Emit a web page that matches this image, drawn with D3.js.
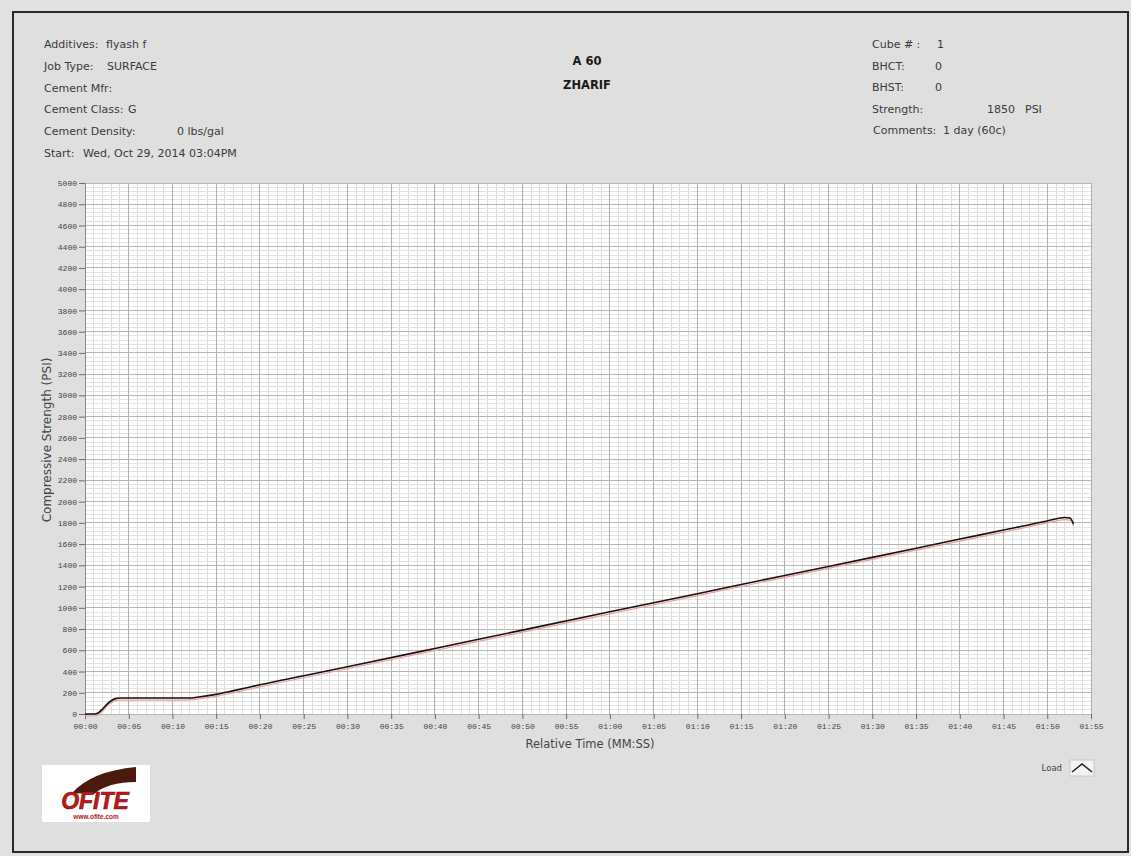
<!DOCTYPE html>
<html>
<head>
<meta charset="utf-8">
<script src="https://cdn.jsdelivr.net/npm/d3@7"></script>
<style>
  html, body { margin: 0; padding: 0; background: #e1e1e1; }
  svg { display: block; }
</style>
</head>
<body>
<svg id="chart" width="1131" height="856"></svg>
<script>
// Compressive strength test record
const timeSeconds = [0, 1, 1.5, 2, 2.5, 3, 3.5, 4, 6, 8, 10, 11.5, 13, 15, 17, 20, 25, 30, 40, 50, 60, 70, 80, 90, 100, 105, 110, 112, 112.6, 113];
const strengthPsi = [0, 0, 10, 45, 90, 125, 145, 150, 150, 150, 150, 150, 160, 185, 220, 275, 360, 445, 617, 790, 962, 1133, 1305, 1475, 1647, 1732, 1818, 1850, 1845, 1790];

const yTicks = d3.range(0, 5001, 200);
const xTicks = d3.range(0, 116, 5);

const leftInfo = [
  ["Additives:", "flyash f"],
  ["Job Type:", "SURFACE"],
  ["Cement Mfr:", ""],
  ["Cement Class:", "G"],
  ["Cement Density:", "0  lbs/gal"],
  ["Start:", "Wed, Oct 29, 2014 03:04PM"]
];
const rightInfo = [
  ["Cube # :", "1"],
  ["BHCT:", "0"],
  ["BHST:", "0"],
  ["Strength:", "1850"],
  ["Comments:", "1 day (60c)"]
];
const titleLines = ["A 60", "ZHARIF"];

const svg = d3.select("#chart");
const W = 1131, H = 856;
const uiFont = "'DejaVu Sans', sans-serif";

// frame
svg.append("rect").attr("x", 0).attr("y", 0).attr("width", W).attr("height", H).attr("fill", "#e1e1e1");
svg.append("rect").attr("x", 13).attr("y", 12).attr("width", 1115).attr("height", 840)
  .attr("fill", "#dfdfdf").attr("stroke", "#2a2a2a").attr("stroke-width", 2);

const plot = { left: 85, top: 183, right: 1091, bottom: 714 };
const x = d3.scaleLinear().domain([0, 115]).range([plot.left, plot.right]);
const y = d3.scaleLinear().domain([0, 5000]).range([plot.bottom, plot.top]);

const g = svg.append("g");
g.append("rect").attr("x", plot.left).attr("y", plot.top)
  .attr("width", plot.right - plot.left).attr("height", plot.bottom - plot.top).attr("fill", "#ffffff");

// minor grid
g.append("g").selectAll("line").data(d3.range(0, 116, 1).filter(d => d % 5 !== 0)).join("line")
  .attr("x1", d => x(d)).attr("x2", d => x(d)).attr("y1", plot.top).attr("y2", plot.bottom)
  .attr("stroke", "#dedede").attr("stroke-width", 1).attr("shape-rendering", "crispEdges");
g.append("g").selectAll("line").data(d3.range(0, 5001, 40).filter(d => d % 200 !== 0)).join("line")
  .attr("y1", d => y(d)).attr("y2", d => y(d)).attr("x1", plot.left).attr("x2", plot.right)
  .attr("stroke", "#e4e4e4").attr("stroke-width", 1).attr("shape-rendering", "crispEdges");
// major grid
g.append("g").selectAll("line").data(xTicks).join("line")
  .attr("x1", d => x(d)).attr("x2", d => x(d)).attr("y1", plot.top).attr("y2", plot.bottom)
  .attr("stroke", "#b0b0b0").attr("stroke-width", 1).attr("shape-rendering", "crispEdges");
g.append("g").selectAll("line").data(yTicks).join("line")
  .attr("y1", d => y(d)).attr("y2", d => y(d)).attr("x1", plot.left).attr("x2", plot.right)
  .attr("stroke", "#b6b6b6").attr("stroke-width", 1).attr("shape-rendering", "crispEdges");

// axes
const fmt = s => String(Math.floor(s / 60)).padStart(2, "0") + ":" + String(s % 60).padStart(2, "0");
const xAxis = g.append("g").attr("transform", `translate(0,${plot.bottom})`)
  .call(d3.axisBottom(x).tickValues(xTicks).tickFormat(fmt).tickSize(5).tickPadding(4));
const yAxis = g.append("g").attr("transform", `translate(${plot.left},0)`)
  .call(d3.axisLeft(y).tickValues(yTicks).tickFormat(d3.format("d")).tickSize(6).tickPadding(2));
[xAxis, yAxis].forEach(a => {
  a.select(".domain").attr("stroke", "#8a8a8a");
  a.selectAll(".tick line").attr("stroke", "#6a6a6a");
  a.selectAll("text").attr("font-family", "'Liberation Mono', monospace").attr("font-size", 8).attr("fill", "#444");
});
xAxis.select(".domain").remove();

// trace
const line = d3.line().x((d, i) => x(timeSeconds[i])).y(d => y(d)).curve(d3.curveMonotoneX);
g.append("path").datum(strengthPsi).attr("d", line).attr("fill", "none")
  .attr("stroke", "#e8a0a0").attr("stroke-width", 1.2).attr("transform", "translate(0,2)");
g.append("path").datum(strengthPsi).attr("d", line).attr("fill", "none")
  .attr("stroke", "#1a1010").attr("stroke-width", 1.6);

// axis titles
svg.append("text").attr("x", 590).attr("y", 748).attr("text-anchor", "middle")
  .attr("font-family", uiFont).attr("font-size", 11.5).attr("fill", "#444")
  .text("Relative Time (MM:SS)");
svg.append("text").attr("transform", "translate(51,440) rotate(-90)").attr("text-anchor", "middle")
  .attr("font-family", uiFont).attr("font-size", 12).attr("fill", "#444")
  .text("Compressive Strength (PSI)");

// header info
const info = svg.append("g").attr("font-family", uiFont).attr("font-size", 11).attr("fill", "#3a3a3a");
const leftValX = [106, 107, 0, 128, 177, 83];
leftInfo.forEach((r, i) => {
  const yy = 48 + i * 21.8;
  info.append("text").attr("x", 44).attr("y", yy).text(r[0]);
  if (r[1]) info.append("text").attr("x", leftValX[i]).attr("y", yy).text(r[1]);
});
const rightValX = [937, 935, 935, 987, 943];
rightInfo.forEach((r, i) => {
  const yy = 48 + i * 21.5;
  info.append("text").attr("x", i === 4 ? 873 : 872).attr("y", yy).text(r[0]);
  info.append("text").attr("x", rightValX[i]).attr("y", yy).text(r[1]);
});
info.append("text").attr("x", 1025).attr("y", 48 + 3 * 21.5).text("PSI");

titleLines.forEach((t, i) => {
  svg.append("text").attr("x", 587).attr("y", 65 + i * 24).attr("text-anchor", "middle")
    .attr("font-family", uiFont).attr("font-weight", "bold").attr("font-size", 11.5)
    .attr("fill", "#1a1a1a").text(t);
});

// legend
svg.append("text").attr("x", 1062).attr("y", 771).attr("text-anchor", "end")
  .attr("font-family", uiFont).attr("font-size", 8.5).attr("fill", "#444").text("Load");
svg.append("rect").attr("x", 1070).attr("y", 760).attr("width", 24).attr("height", 16).attr("fill", "#f7f3f3")
  .attr("stroke", "#c8c8c8");
svg.append("path").attr("d", "M1072,772 L1082,764 L1092,772").attr("fill", "none").attr("stroke", "#222").attr("stroke-width", 1.6);

// logo
const logo = svg.append("g");
logo.append("rect").attr("x", 42).attr("y", 765).attr("width", 108).attr("height", 57).attr("fill", "#ffffff");
logo.append("path").attr("d", "M72,793 Q92,771 136,767 L136,782 Q108,782 94,794 Z").attr("fill", "#4a1a0e");
logo.append("text").attr("x", 95).attr("y", 809).attr("text-anchor", "middle")
  .attr("font-family", "'Liberation Sans Narrow', 'Liberation Sans', sans-serif").attr("font-weight", "bold").attr("font-style", "italic")
  .attr("font-size", 23).attr("fill", "#c01818").attr("stroke", "#7a1010").attr("stroke-width", 0.6).text("OFITE");
logo.append("text").attr("x", 96).attr("y", 819).attr("text-anchor", "middle")
  .attr("font-family", "'Liberation Sans', sans-serif").attr("font-weight", "bold")
  .attr("font-size", 6.5).attr("fill", "#b02020").text("www.ofite.com");
</script>
</body>
</html>
